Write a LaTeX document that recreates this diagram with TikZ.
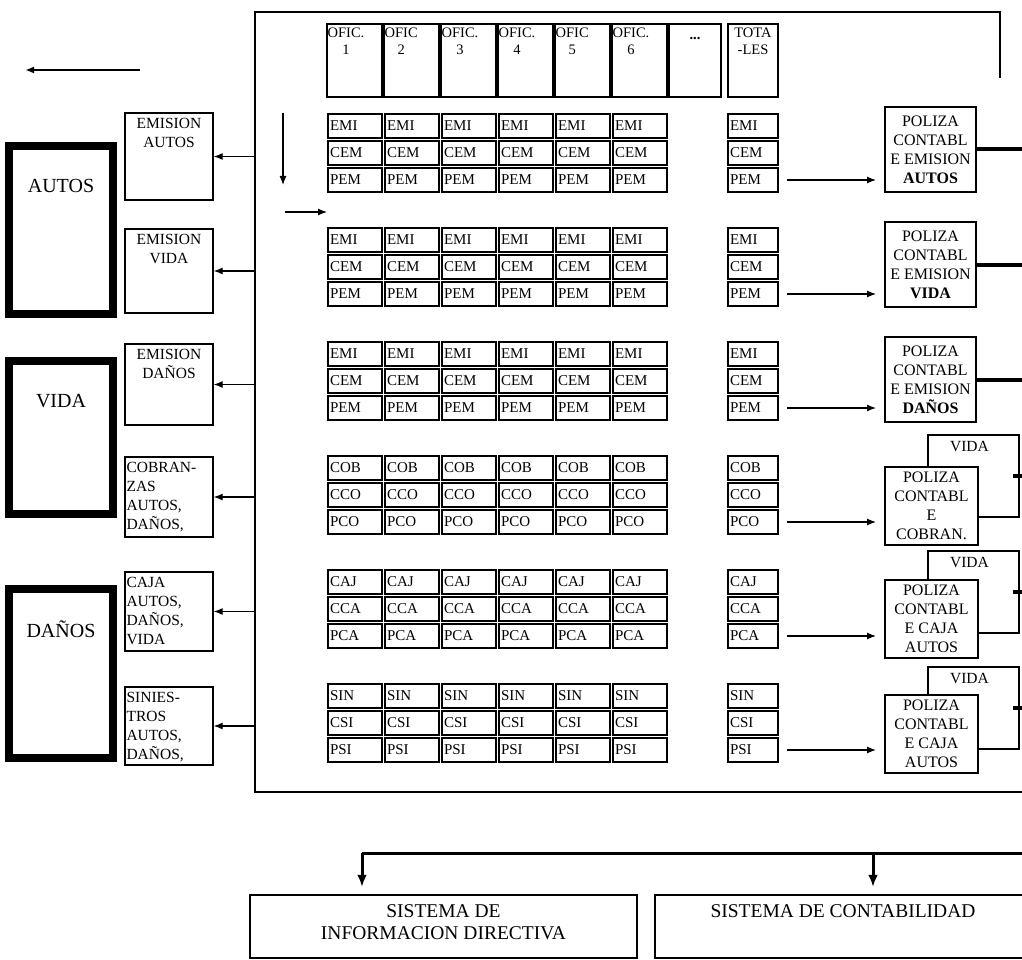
\documentclass[tikz,border=0pt]{standalone}
\usepackage{fontspec}
\setmainfont{Liberation Serif}
\usetikzlibrary{arrows.meta,positioning,calc}
\tikzset{
  cell/.style={draw,line width=2pt,anchor=north west,text width=50pt,align=left,inner sep=2pt,minimum height=24pt,font=\fontsize{15}{16}\selectfont},
  tcell/.style={cell,text width=46pt},
  hdr/.style={draw,line width=2pt,anchor=north west,minimum width=55pt,minimum height=73pt,inner sep=0pt},
  hlab/.style={anchor=north west,align=center,inner sep=1.5pt,yshift=-3pt,font=\fontsize{14.5}{17}\selectfont},
  bigbox/.style={draw,line width=8pt,minimum width=104pt,inner sep=0pt},
  biglab/.style={anchor=center,yshift=-44pt,font=\fontsize{20}{22}\selectfont},
  lbox/.style={draw,line width=1.3pt,minimum width=88pt,inner sep=0pt},
  llab/.style={anchor=north west,align=left,inner sep=2pt,yshift=-4pt,font=\fontsize{15.5}{19}\selectfont},
  clab/.style={llab,anchor=north,align=center},
  pol/.style={draw,line width=2pt,fill=white,align=center,inner sep=0pt,font=\fontsize{16}{19}\selectfont},
  polback/.style={draw,line width=1.5pt,fill=white,minimum width=91pt,minimum height=82pt,inner sep=0pt},
  sisbox/.style={draw,line width=2.5pt,minimum height=63pt,inner sep=0pt},
  sislab/.style={anchor=north,align=center,yshift=-7pt,font=\fontsize{19.5}{22}\selectfont},
  ar/.style={-{Latex[length=9pt,width=7pt]},line width=1.2pt},
  bigar/.style={-{Latex[length=12pt,width=10pt]},line width=3pt},
  thk/.style={line width=4pt},
}
\begin{document}
\begin{tikzpicture}[x=1pt,y=-1pt]
  \useasboundingbox (0,0) rectangle (1022,960);
  % frame round the office grid
  \coordinate (fa) at (255,12);
  \coordinate (fb) at (1000,12);
  \coordinate (fc) at (1000,78);
  \coordinate (fd) at (255,792);
  \coordinate (fe) at (1022,792);
  \coordinate (edge) at (1022,0);
  \draw[line width=2pt] (fc) -- (fb) -- (fa) -- (fd) -- (fe);
  \coordinate (la) at (140,70);
  \coordinate (lb) at (25,70);
  \draw[ar,line width=1.8pt] (la) -- (lb);
  \coordinate (da) at (283,113);
  \coordinate (db) at (283,185);
  \coordinate (ra) at (285,212);
  \coordinate (rb) at (327,212);
  \draw[ar] (da) -- (db);
  \draw[ar] (ra) -- (rb);
  % ramos
  \node[bigbox,minimum height=168pt,label={[biglab]north:AUTOS}] (autos) at (61,230) {};
  \node[bigbox,minimum height=153pt,label={[biglab]north:VIDA}] (vida) at (61,437.5) {};
  \node[bigbox,minimum height=169pt,label={[biglab]north:DAÑOS}] (danos) at (61,673.5) {};
  % reportes por ramo
  \node[lbox,minimum height=87pt,label={[clab]north:{EMISION\\AUTOS}}] (ea) at (169,156.5) {};
  \node[lbox,minimum height=84pt,label={[clab]north:{EMISION\\VIDA}}] (ev) at (169,271) {};
  \node[lbox,minimum height=81pt,label={[clab]north:{EMISION\\DAÑOS}}] (ed) at (169,384.5) {};
  \node[lbox,minimum height=80pt,label={[llab]north west:{COBRAN-\\ZAS\\AUTOS,\\DAÑOS,}}] (co) at (169,497) {};
  \node[lbox,minimum height=79pt,label={[llab]north west:{CAJA\\AUTOS,\\DAÑOS,\\VIDA}}] (cj) at (169,611.5) {};
  \node[lbox,minimum height=78pt,label={[llab]north west:{SINIES-\\TROS\\AUTOS,\\DAÑOS,}}] (si) at (169,726) {};
  \foreach \b in {ea,ev,ed,co,cj,si}
    \draw[ar] (\b.east -| fa) -- (\b.east);
  % oficinas
  \foreach \ofic [count=\k] in {OFIC.,OFIC,OFIC.,OFIC.,OFIC,OFIC.}
    \node[hdr,label={[hlab]north west:{\ofic\\\k}}] (h\k) at ({326+57*(\k-1)},23) {};
  \node[hdr,minimum width=52pt,label={[hlab,anchor=north,yshift=-10pt]north:{\textbf{...}}}] (hd) at (668,23) {};
  \node[hdr,minimum width=50pt,label={[hlab,anchor=north]north:{TOTA\\-LES}}] (ht) at (727,23) {};
  % movimientos por oficina
  \foreach \ra/\rb/\rc [count=\g] in {EMI/CEM/PEM,EMI/CEM/PEM,EMI/CEM/PEM,COB/CCO/PCO,CAJ/CCA/PCA,SIN/CSI/PSI}{
    \pgfmathsetmacro\yt{113+114*(\g-1)}
    \foreach \k in {1,...,6}{
      \pgfmathsetmacro\xl{327+57*(\k-1)}
      \node[cell] (c\g-\k-1) at (\xl,\yt) {\ra};
      \node[cell] (c\g-\k-2) at (\xl,\yt+27) {\rb};
      \node[cell] (c\g-\k-3) at (\xl,\yt+54) {\rc};
    }
    \node[tcell] (t\g-1) at (727,\yt) {\ra};
    \node[tcell] (t\g-2) at (727,\yt+27) {\rb};
    \node[tcell] (t\g-3) at (727,\yt+54) {\rc};
  }
  % polizas contables
  \foreach \g/\yc/\last in {1/149.5/AUTOS,2/264.5/VIDA,3/379.5/DAÑOS}{
    \node[pol,minimum width=91pt,minimum height=85pt] (p\g) at (930.5,\yc) {POLIZA\\CONTABL\\E EMISION\\\textbf{\last}};
    \draw[thk] (p\g.east) -- (p\g.east -| edge);
  }
  \node[polback,label={[clab,yshift=-1pt,xshift=-4pt]north:VIDA}] (v4) at (973.5,476) {};
  \node[polback,label={[clab,yshift=-1pt,xshift=-4pt]north:VIDA}] (v5) at (973.5,592) {};
  \node[polback,label={[clab,yshift=-1pt,xshift=-4pt]north:VIDA}] (v6) at (973.5,708) {};
  \node[pol,minimum width=93pt,minimum height=78pt] (p4) at (931.5,506) {POLIZA\\CONTABL\\E\\COBRAN.};
  \node[pol,minimum width=93pt,minimum height=78pt] (p5) at (931.5,619) {POLIZA\\CONTABL\\E CAJA\\AUTOS};
  \node[pol,minimum width=93pt,minimum height=78pt] (p6) at (931.5,734) {POLIZA\\CONTABL\\E CAJA\\AUTOS};
  \foreach \g in {4,5,6}
    \draw[thk] ([xshift=-7pt]v\g.east) -- (v\g.east -| edge);
  \foreach \g in {1,...,6}
    \draw[ar,shorten <=8pt,shorten >=8pt] (t\g-3.east) -- (t\g-3.east -| p\g.west);
  % sistemas destino
  \node[sisbox,minimum width=387pt,label={[sislab]north:{SISTEMA DE\\INFORMACION DIRECTIVA}}] (sid) at (443.5,926.5) {};
  \node[sisbox,minimum width=376pt,label={[sislab]north:{SISTEMA DE CONTABILIDAD}}] (sc) at (843,926.5) {};
  \coordinate (bus) at (1022,853);
  \coordinate (j1) at (362,853);
  \coordinate (j2) at (873,853);
  \draw[line width=3pt] (bus) -- (j1);
  \draw[bigar,shorten >=7pt] (j1) -- (j1 |- sid.north);
  \draw[bigar,shorten >=7pt] (j2) -- (j2 |- sc.north);
\end{tikzpicture}
\end{document}
